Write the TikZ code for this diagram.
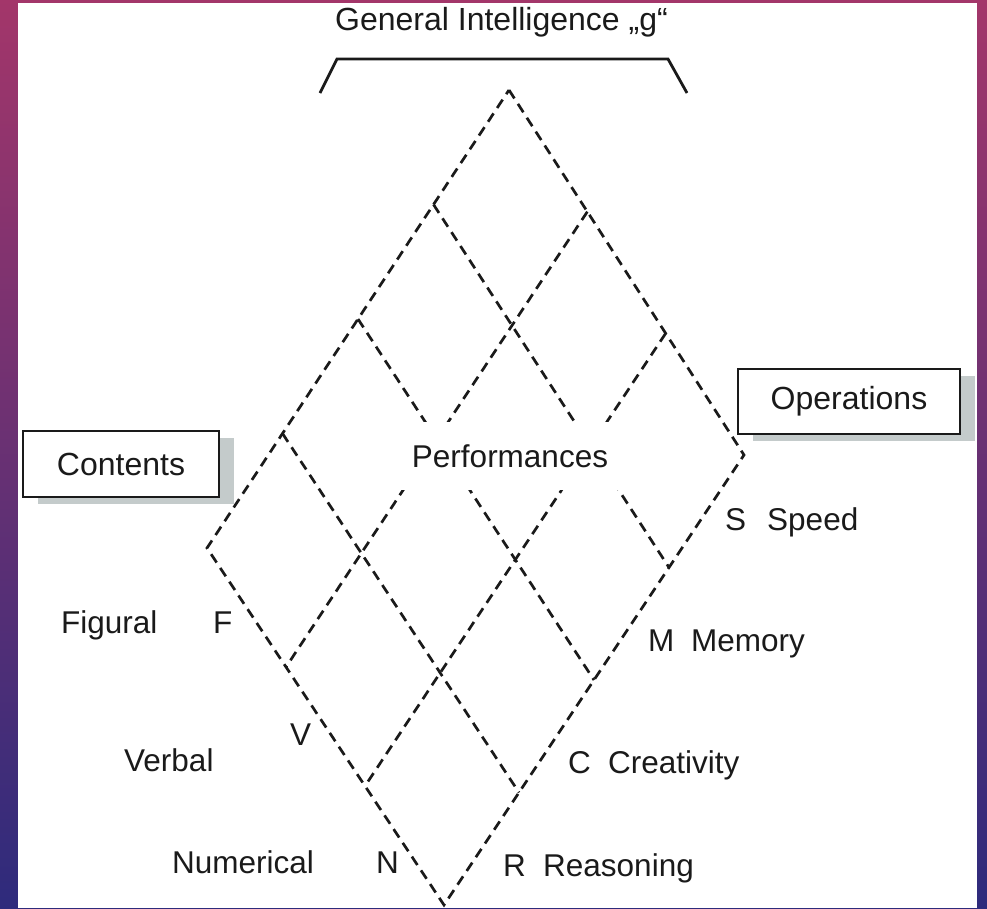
\documentclass[tikz,border=0pt]{standalone}
\usepackage{fontspec}
\setmainfont{Liberation Sans}
\usetikzlibrary{calc}
\definecolor{bgtop}{HTML}{A3366A}
\definecolor{bgmid}{HTML}{6A2E82}
\definecolor{bgbot}{HTML}{2E2B7C}
\definecolor{shadowgray}{HTML}{C4CBCB}
\definecolor{ink}{HTML}{1A1A1A}
\begin{document}
\begin{tikzpicture}[x=1pt,y=-1pt,
  lbl/.style={font=\fontsize{31.5}{36}\selectfont, text=ink, inner sep=0pt, anchor=base west},
  gridline/.style={draw=ink, line width=2.7pt, dash pattern=on 10pt off 6.5pt},
  labelbox/.style={draw=ink, line width=2.8pt, fill=white, inner sep=0pt,
                   font=\fontsize{32}{36}\selectfont, text=ink},
  boxshadow/.style={fill=shadowgray, draw=none},
  bracketline/.style={draw=ink, line width=2.8pt}]
\useasboundingbox (0,0) rectangle (987,908);
% slide background
\shade[top color=bgtop, middle color=bgmid, bottom color=bgbot] (0,0) rectangle (987,908);
\fill[white] (18,3) rectangle (977,908);

% title and bracket
\node[lbl, font=\fontsize{32}{36}\selectfont] (title) at (335,30) {General Intelligence „g“};
\coordinate (bl) at (320,93);
\coordinate (blc) at (337,59);
\coordinate (brc) at (668,59);
\coordinate (br) at (687,93);
\draw[bracketline] (bl) -- (blc) -- (brc) -- (br);

% diamond
\coordinate (T) at (509,90);
\coordinate (R) at (744,455);
\coordinate (B) at (444,905);
\coordinate (L) at (207,548);
\draw[gridline] (T) -- (R) -- (B) -- (L) -- cycle;
\foreach \b in {0.25,0.5,0.75}
  \draw[gridline] ($(T)!\b!(L)$) -- ($(R)!\b!(B)$);
\foreach \a in {0.33333,0.66667}
  \draw[gridline] ($(T)!\a!(R)$) -- ($(L)!\a!(B)$);

\node[fill=white, minimum width=230pt, minimum height=68pt, inner sep=0pt,
      font=\fontsize{31.5}{36}\selectfont, text=ink] (perf) at (510,456) {Performances};

% boxes
\fill[boxshadow] (38,438) rectangle (234,504);
\node[labelbox, minimum width=196pt, minimum height=66pt] (contents) at (121,464) {Contents};
\fill[boxshadow] (753,376) rectangle (975,441);
\node[labelbox, minimum width=222pt, minimum height=65pt] (operations) at (849,401.5) {Operations};

% content labels
\node[lbl] (figural) at (61,633) {Figural};
\node[lbl] (F) at (213,633) {F};
\node[lbl] (verbal) at (124,771) {Verbal};
\node[lbl] (V) at (290,745) {V};
\node[lbl] (numerical) at (172,873) {Numerical};
\node[lbl] (N) at (376,873) {N};

% operation labels
\node[lbl] (S) at (725,530) {S};
\node[lbl] (speed) at (767,530) {Speed};
\node[lbl] (M) at (648,651) {M};
\node[lbl] (memory) at (691,651) {Memory};
\node[lbl] (C) at (568,773) {C};
\node[lbl] (creativity) at (608,773) {Creativity};
\node[lbl] (R) at (503,876) {R};
\node[lbl] (reasoning) at (543,876) {Reasoning};
\end{tikzpicture}
\end{document}
